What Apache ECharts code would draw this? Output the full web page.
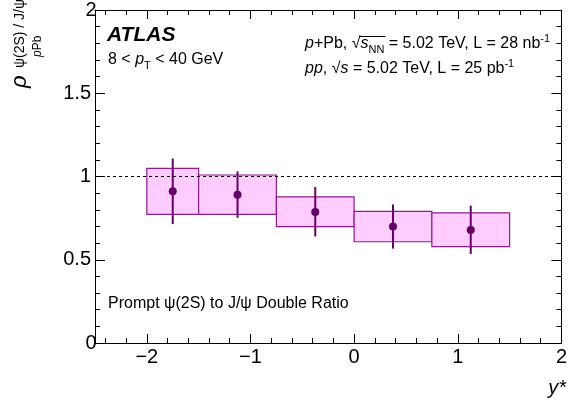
<!DOCTYPE html>
<html><head><meta charset="utf-8">
<script src="https://cdn.jsdelivr.net/npm/echarts@6/dist/echarts.min.js"></script>
<style>html,body{margin:0;padding:0;background:#fff}#c{width:570px;height:407px}</style>
</head><body><div id="c"></div>
<script>
// ---- data ----
const binLow   = [-2.0, -1.5, -0.75, 0.0, 0.75];
const binHigh  = [-1.5, -0.75, 0.0, 0.75, 1.5];
const yCenter  = [-1.75, -1.125, -0.375, 0.375, 1.125];
const ratio    = [0.911, 0.891, 0.787, 0.699, 0.679];
const statLow  = [0.714, 0.752, 0.640, 0.567, 0.535];
const statHigh = [1.108, 1.031, 0.937, 0.832, 0.825];
const sysLow   = [0.773, 0.773, 0.699, 0.608, 0.579];
const sysHigh  = [1.049, 1.009, 0.878, 0.791, 0.782];
const xMajorTicks = [-2, -1, 0, 1, 2];
const refLine = 1;

const xMinorTicks = [];
for (let v = -2.4; v < 2.0; v += 0.2) {
  const r = Math.round(v * 10) / 10;
  if (Math.abs(r - Math.round(r)) > 1e-6) xMinorTicks.push(r);
}

const FONT = 'Liberation Sans, Arial, sans-serif';
const boxData = binLow.map((l, i) => [l, binHigh[i], sysLow[i], sysHigh[i]]);
const errData = yCenter.map((x, i) => [x, statLow[i], statHigh[i]]);
const ptData  = yCenter.map((x, i) => [x, ratio[i]]);

// measure text to place the square-root overline
const mctx = document.createElement('canvas').getContext('2d');
function tw(t, f) { mctx.font = f; return mctx.measureText(t).width; }
const L1X = 305;
const sqrtStart = L1X + tw('p', 'italic 16px ' + FONT) + tw('+Pb, ', '16px ' + FONT);
const sqrtW = tw('\u221A', '16px ' + FONT);
const olX1 = sqrtStart + sqrtW * 0.85;
const olX2 = sqrtStart + sqrtW + tw('s', 'italic 16px ' + FONT) + tw('NN', '11px ' + FONT) + 1;

function xAx(pos, ticks, len, labels, line) {
  return {
    type: 'value', position: pos, min: -2.5, max: 2.0,
    axisLine: {show: line, onZero: false, lineStyle: {color: '#000', width: 1}},
    axisTick: {show: true, inside: true, length: len, customValues: ticks, lineStyle: {color: '#000', width: 1}},
    axisLabel: labels ? {show: true, customValues: xMajorTicks, color: '#000', fontFamily: FONT, fontSize: 20, margin: 4,
      formatter: v => String(v).replace('-', '\u2212')} : {show: false},
    splitLine: {show: false}
  };
}
function yAx(pos, labels) {
  return {
    type: 'value', position: pos, min: 0, max: 2, interval: 0.5,
    axisLine: {show: true, onZero: false, lineStyle: {color: '#000', width: 1}},
    axisTick: {show: true, inside: true, length: 10, lineStyle: {color: '#000'}},
    minorTick: {show: true, splitNumber: 5, length: 5, lineStyle: {color: '#000'}},
    axisLabel: labels ? {show: true, color: '#000', fontFamily: FONT, fontSize: 20, margin: 4,
      verticalAlign: 'middle', alignMaxLabel: 'center', alignMinLabel: 'center'} : {show: false},
    splitLine: {show: false}, minorSplitLine: {show: false}
  };
}

const chart = echarts.init(document.getElementById('c'), null, {renderer: 'canvas'});
chart.setOption({
  animation: false,
  backgroundColor: '#fff',
  grid: {left: 95, right: 4, top: 4, bottom: 64},
  xAxis: [
    xAx('bottom', xMajorTicks, 9, true, true),
    xAx('bottom', xMinorTicks, 5, false, false),
    xAx('top', xMajorTicks, 9, false, true),
    xAx('top', xMinorTicks, 5, false, false)
  ],
  yAxis: [yAx('left', true), yAx('right', false)],
  series: [
    {
      type: 'custom', xAxisIndex: 0, yAxisIndex: 0, data: boxData, z: 2,
      encode: {x: [0, 1], y: [2, 3]},
      renderItem: (params, api) => {
        const p1 = api.coord([api.value(0), api.value(3)]);
        const p2 = api.coord([api.value(1), api.value(2)]);
        return {type: 'rect', shape: {x: p1[0], y: p1[1], width: p2[0] - p1[0], height: p2[1] - p1[1]},
          style: {fill: '#ffccff', stroke: '#8e1c8e', lineWidth: 1.2}};
      }
    },
    {
      type: 'custom', xAxisIndex: 0, yAxisIndex: 0, data: errData, z: 4,
      encode: {x: 0, y: [1, 2]},
      renderItem: (params, api) => {
        const a = api.coord([api.value(0), api.value(1)]);
        const b = api.coord([api.value(0), api.value(2)]);
        return {type: 'line', shape: {x1: a[0], y1: a[1], x2: b[0], y2: b[1]},
          style: {stroke: '#660066', lineWidth: 2}};
      }
    },
    {
      type: 'scatter', xAxisIndex: 0, yAxisIndex: 0, data: ptData, z: 5,
      symbol: 'circle', symbolSize: 8, itemStyle: {color: '#660066', opacity: 1},
      markLine: {silent: true, symbol: 'none', z: 3, label: {show: false},
        lineStyle: {color: '#000', type: [3, 3], width: 1.2},
        data: [{yAxis: refLine}]}
    }
  ],
  graphic: [
    {type: 'text', x: 107, y: 35, style: {text: 'ATLAS', font: 'italic bold 21px ' + FONT, fill: '#000', textVerticalAlign: 'middle'}},
    {type: 'text', x: 108, y: 60, style: {
      text: '8 < {i|p}{sub|T} < 40 GeV', font: '16px ' + FONT, fill: '#000', textVerticalAlign: 'middle',
      rich: {i: {fontStyle: 'italic', fontSize: 16, fontFamily: FONT, lineHeight: 22},
             sub: {fontSize: 11, fontFamily: FONT, verticalAlign: 'bottom', lineHeight: 22}}
    }},
    {type: 'text', x: L1X, y: 44, style: {
      text: '{i|p}+Pb, \u221A{i|s}{sub|NN} = 5.02 TeV, L = 28 nb{sup|-1}', font: '16px ' + FONT, fill: '#000', textVerticalAlign: 'middle',
      rich: {i: {fontStyle: 'italic', fontSize: 16, fontFamily: FONT, lineHeight: 22},
             sub: {fontSize: 11, fontFamily: FONT, verticalAlign: 'bottom', lineHeight: 22},
             sup: {fontSize: 11, fontFamily: FONT, verticalAlign: 'top', lineHeight: 22}}
    }},
    {type: 'line', shape: {x1: olX1, y1: 36.5, x2: olX2, y2: 36.5}, style: {stroke: '#000', lineWidth: 1}},
    {type: 'text', x: 305, y: 69, style: {
      text: '{i|pp}, \u221A{i|s} = 5.02 TeV, L = 25 pb{sup|-1}', font: '16px ' + FONT, fill: '#000', textVerticalAlign: 'middle',
      rich: {i: {fontStyle: 'italic', fontSize: 16, fontFamily: FONT, lineHeight: 22},
             sup: {fontSize: 11, fontFamily: FONT, verticalAlign: 'top', lineHeight: 22}}
    }},
    {type: 'text', x: 108, y: 304, style: {text: 'Prompt \u03C8(2S) to J/\u03C8 Double Ratio', font: '16px ' + FONT, fill: '#000', textVerticalAlign: 'middle'}},
    {type: 'text', x: 566, y: 388, style: {text: 'y*', font: 'italic 20px ' + FONT, fill: '#000', textAlign: 'right', textVerticalAlign: 'middle'}},
    // y axis title (rotated)
    {type: 'text', x: 20, y: 88, rotation: Math.PI / 2, style: {text: '\u03C1', font: 'italic 22px ' + FONT, fill: '#000', textAlign: 'left', textVerticalAlign: 'middle'}},
    {type: 'text', x: 20, y: 68, rotation: Math.PI / 2, style: {text: '\u03C8(2S) / J/\u03C8', font: '14px ' + FONT, fill: '#000', textAlign: 'left', textVerticalAlign: 'middle'}},
    {type: 'text', x: 38, y: 57, rotation: Math.PI / 2, style: {text: '{i|p}Pb', font: '12px ' + FONT, fill: '#000', textAlign: 'left', textVerticalAlign: 'middle',
      rich: {i: {fontStyle: 'italic', fontSize: 12, fontFamily: FONT}}}}
  ]
});
</script></body></html>
